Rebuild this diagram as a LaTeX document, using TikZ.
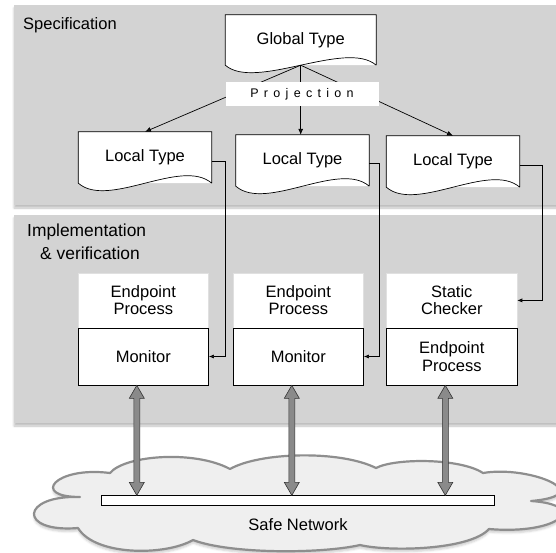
\documentclass[tikz,border=0pt]{standalone}
\usepackage{fontspec}
\setmainfont{Liberation Sans}
\usetikzlibrary{arrows.meta, positioning, calc, shadows.blur}
\definecolor{panelgray}{HTML}{D3D3D3}
\definecolor{cloudfill}{HTML}{EFEFEF}
\definecolor{cloudline}{HTML}{8E8E8E}
\definecolor{arrowgray}{HTML}{8A8A8A}

\begin{document}
\begin{tikzpicture}[
  x=1pt,
  y=-1pt,
  font=\fontsize{16.5}{17.3}\selectfont,
  panel/.style={fill=panelgray, blur shadow={shadow xshift=0pt, shadow yshift=-3pt, shadow blur steps=6, shadow opacity=25}},
  panellabel/.style={anchor=west, align=left, inner sep=0pt},
  doc/.style={minimum width=133pt, minimum height=51pt, fill=white, inner sep=0pt},
  docline/.style={line width=0.7pt},
  procbox/.style={minimum width=130.5pt, minimum height=55.3pt, fill=white, draw=black!12, align=center, inner sep=0pt},
  monbox/.style={minimum width=130.5pt, minimum height=57pt, fill=white, draw, line width=0.7pt, align=center, inner sep=0pt},
  cloud/.style={fill=cloudfill, draw=cloudline, line width=2.2pt, line join=round, blur shadow={shadow xshift=0pt, shadow yshift=-3pt, shadow opacity=20}},
  flow/.style={-{Latex[length=6pt,width=5pt]}, line width=0.7pt},
  link/.style={-{Latex[length=5pt,width=4pt]}, line width=0.6pt},
  dbl/.style={fill=arrowgray, draw=black!80, line width=0.6pt, line join=miter}
]
\useasboundingbox (0,0) rectangle (556,553);

% Panels
\path[panel] (14,5) rectangle (562,205);
\path[panel] (14,215) rectangle (562,423);

% Cloud
\draw[cloud] (80,497) .. controls (30,497) and (55,466) .. (110,473)
  .. controls (125,455) and (195,450) .. (230,469)
  .. controls (260,452) and (340,450) .. (376,468)
  .. controls (395,458) and (460,458) .. (483,473)
  .. controls (530,465) and (600,495) .. (531,501)
  .. controls (590,505) and (560,535) .. (489,529)
  .. controls (470,550) and (390,552) .. (360,545)
  .. controls (320,554) and (230,554) .. (193,540)
  .. controls (165,556) and (95,556) .. (78,528)
  .. controls (18,533) and (20,495) .. (80,497) -- cycle;

% Types
\node[doc, minimum width=150.5pt, minimum height=50pt] (gt) at (300.7,40) {Global Type};
\node[doc] (lt1) at (145,157.5) {Local Type};
\node[doc] (lt2) at (302.5,160.5) {Local Type};
\node[doc] (lt3) at (453,161.5) {Local Type};
\foreach \d in {gt,lt1,lt2,lt3} {
  \fill[white] (\d.south west) .. controls +(30,26) and +(-30,-26) .. (\d.south east) -- cycle;
  \draw[docline] (\d.south east) -- (\d.north east) -- (\d.north west) -- (\d.south west)
    .. controls +(30,26) and +(-30,-26) .. (\d.south east);
}

% Projection
\foreach \d in {lt1,lt3} \draw[flow] (gt.south) -- (\d.north);
\draw[flow] (gt.south) -- (gt.south |- lt2.north);
\node[fill=white, minimum width=153pt, minimum height=24pt, inner sep=0pt, font=\fontsize{12.5}{14}\selectfont] (proj) at (302,94) {\spaceskip=5.3pt P r o j e c t i o n};

% Panel labels
\node[panellabel] (spec) at (23,25) {Specification};
\node[panellabel, font=\fontsize{17.4}{23}\selectfont] (impl) at (27,241.5) {Implementation\\\hspace{13pt}\& verification};

% Implementation boxes
\node[procbox] (ep1) at (143.3,300.4) {Endpoint\\Process};
\node[monbox] (mon1) at (143.3,356.5) {Monitor};
\node[procbox] (ep2) at (298.3,300.4) {Endpoint\\Process};
\node[monbox] (mon2) at (298.3,356.5) {Monitor};
\node[procbox] (sc3) at (451.8,300.4) {Static\\Checker};
\node[monbox] (ep3) at (451.8,356.5) {Endpoint\\Process};

% Local types to monitors / checker
\draw[link] ([yshift=-4pt]lt1.east) -- ++(14,0) |- (mon1.east);
\draw[link] ([yshift=-3pt]lt2.east) -- ++(10.4,0) |- (mon2.east);
\draw[link] ([yshift=-3.5pt]lt3.east) -- ++(23,0) |- (sc3.east);

% Network
\node[draw, fill=white, minimum width=393.7pt, minimum height=9.6pt, inner sep=0pt, line width=0.7pt] (net) at (297.9,500.5) {};
\node (netlbl) at (298,525) {Safe Network};

% Double arrows
\foreach \m in {mon1,mon2,ep3} {
  \coordinate (t) at ([xshift=-6.5pt]\m.south);
  \coordinate (b) at (t |- net.north);
  \draw[dbl] (t) -- ++(7.5,13) -- ++(-4.5,0) -- ($(b)+(3,-13)$) -- ++(4.5,0) -- (b)
    -- ++(-7.5,-13) -- ++(4.5,0) -- ($(t)+(-3,13)$) -- ++(-4.5,0) -- cycle;
}

\end{tikzpicture}
\end{document}
